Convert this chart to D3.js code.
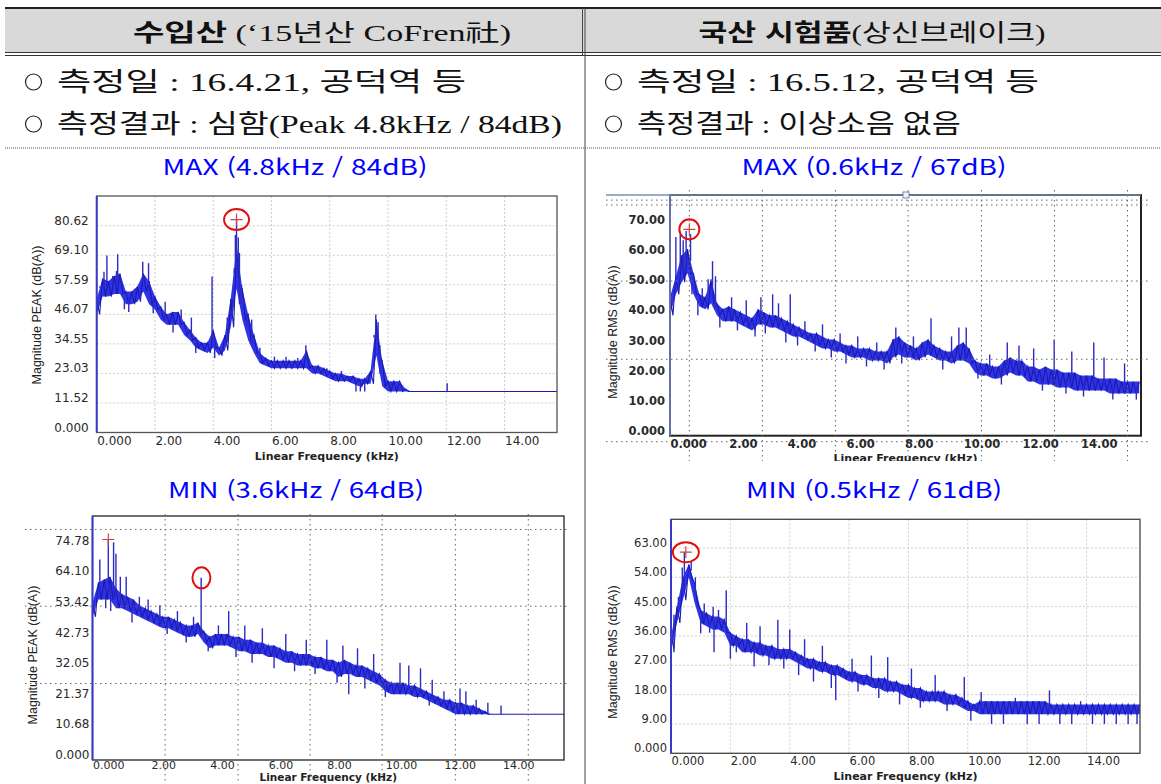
<!DOCTYPE html>
<html lang="ko">
<head>
<meta charset="utf-8">
<title>제동 소음 측정 비교</title>
<script src="https://cdn.jsdelivr.net/npm/d3@7"></script>
<style>
  html, body { margin: 0; padding: 0; background: #fff; }
  svg { display: block; }
</style>
</head>
<body>
<svg id="sheet" width="1161" height="784"></svg>
<script>
// ---------- texts ----------
const columnHeads = [["수입산", " (‘15년산 CoFren社)"], ["국산 시험품", "(상신브레이크)"]];
const measureLines = [
  ["측정일 : 16.4.21, 공덕역 등", "측정결과 : 심함(Peak 4.8kHz / 84dB)"],
  ["측정일 : 16.5.12, 공덕역 등", "측정결과 : 이상소음 없음"]
];
const chartTitles = ["MAX (4.8kHz / 84dB)", "MAX (0.6kHz / 67dB)", "MIN (3.6kHz / 64dB)", "MIN (0.5kHz / 61dB)"];
const yTitles = ["Magnitude PEAK (dB(A))", "Magnitude RMS (dB(A))", "Magnitude PEAK (dB(A))", "Magnitude RMS (dB(A))"];
const xTitle = "Linear Frequency (kHz)";

// ---------- data ----------
const binKHz = 0.2;                       // spectrum bins, 0.2 kHz apart, from 0 kHz
const freqTicks = [0, 2, 4, 6, 8, 10, 12, 14];

// 수입산 MAX (peak spectrum)
const impMaxTicks = [0, 11.52, 23.03, 34.55, 46.07, 57.59, 69.10, 80.62];
const impMaxHi = [52,60,59,61,62,55,55,57,62,59, 53,49,46,47,47,43,40,37,35,35,
  40,33,38,52,72,56,46,38,31,29, 28,28,28,28,28,28,32,26,26,25,
  24,23,23,22,22,21,21,24,44,28, 20,20,20,17,16,16,16,16,16,16,
  16,16,16,16,16,16,16,16,16,16, 16,16,16,16,16,16,16,16,16,16];
const impMaxLo = [46,53,53,54,54,50,50,51,55,50, 48,44,42,42,42,38,36,33,32,31,
  33,30,32,41,56,44,36,31,27,26, 25,25,25,25,25,25,25,23,23,22,
  21,20,20,20,19,18,19,19,30,18, 16,16,16,16,16,16,16,16,16,16,
  16,16,16,16,16,16,16,16,16,16, 16,16,16,16,16,16,16,16,16,16];
const impMaxSpikes = [[0.1,57],[0.25,62.7],[0.35,69],[0.55,61],[0.68,63],[0.72,69.5],[0.95,48],[1.1,47],
  [1.3,56],[1.58,66.6],[1.78,66],[1.94,46.5],[2.35,51],[2.62,39],[2.9,48],[3.25,44.8],[3.4,31],
  [3.96,60.8],[4.05,29],[4.48,44.8],[4.66,52],[4.72,62],[4.76,77],[4.8,83],[4.86,76],[4.9,70],
  [4.97,57.5],[5.05,52],[5.15,45],[5.32,44],[5.6,33],[6.1,29.6],[6.5,29.5],[6.9,29],[7.18,34],
  [7.9,25],[8.4,24],[8.9,16],[9.05,16],[9.2,16],[9.52,38],[9.58,46],[9.66,43],[9.72,34],
  [10.1,19],[10.4,19.5],[12.03,19.2]];
const impMaxMark = [4.8, 83];

// 국산 MAX (rms spectrum)
const domMaxTicks = [0, 10, 20, 30, 40, 50, 60, 70];
const domMaxHi = [46,53,60,62,54,47,46,52,44,42, 43,42,41,40,39,42,41,40,40,39,
  38,37,36,35,34,34,33,32,32,31, 30,30,29,29,29,28,28,28,32,33,
  31,30,29,31,32,30,29,28,28,30, 31,29,25,24,24,23,23,25,26,25,
  25,23,23,22,23,22,22,21,21,21, 20,20,20,19,19,19,19,18,18,18, 18];
const domMaxLo = [40,47,51,54,47,43,42,44,40,38, 38,38,37,36,35,37,37,36,36,35,
  34,33,33,32,31,30,29,29,28,28, 27,26,26,26,25,25,25,24,26,27,
  26,26,25,26,27,26,25,25,24,25, 25,24,21,20,20,19,19,20,21,20,
  20,18,18,17,17,17,16,16,16,15, 15,15,15,15,15,14,14,14,14,14, 14];
const domMaxSpikes = [[0.2,66],[0.35,67],[0.45,65],[0.55,68],[0.7,67],[0.75,47],[0.95,40],[1.1,49],
  [1.3,52],[1.45,58],[1.55,53],[1.7,36],[2.1,46],[2.3,35],[2.6,45],[2.9,33],[3.1,46],[3.25,34],
  [3.5,47],[3.7,44],[3.95,31],[4.1,47],[4.35,30],[4.6,38],[4.95,28],[5.2,37],[5.5,26],[5.8,34],
  [6.0,24],[6.4,33],[6.7,23],[7.05,31],[7.3,22],[7.7,36],[7.9,24],[8.3,33],[8.9,39],[9.3,22],
  [9.6,33],[9.85,36],[10.1,36],[10.5,19],[10.9,27],[11.3,17],[11.5,31],[11.9,30],[12.4,29],
  [12.7,15],[13.1,32],[13.5,14],[13.7,28],[14.1,13],[14.45,31],[14.8,26],[15.1,12],[15.5,24],[15.9,12]];
const domMaxMark = [0.66, 68.6];

// 수입산 MIN (peak spectrum)
const impMinTicks = [0, 10.68, 21.37, 32.05, 42.73, 53.42, 64.10, 74.78];
const impMinHi = [55,62,63,64,60,58,57,56,54,53, 52,51,50,50,49,48,47,47,48,45,
  43,44,44,44,43,43,42,42,41,41, 40,40,39,38,38,37,37,37,36,36,
  35,35,34,35,34,33,33,32,31,30, 28,27,27,27,26,26,25,24,23,22,
  21,21,20,20,19,19,18,17,16,16, 16,16,16,16,16,16,16,16,16,16, 16];
const impMinLo = [50,56,56,56,53,53,52,51,50,49, 48,47,46,46,45,44,43,43,44,41,
  39,40,40,40,39,38,38,37,37,37, 36,36,35,34,34,33,33,33,32,32,
  31,31,29,30,30,29,29,28,27,26, 24,23,23,23,23,22,22,21,20,19,
  18,17,16,16,16,16,16,16,16,16, 16,16,16,16,16,16,16,16,16,16, 16];
const impMinSpikes = [[0.25,70],[0.45,53],[0.54,77],[0.62,52],[0.72,76],[0.8,72],[0.95,64],[1.15,64],
  [1.35,48],[1.6,57],[1.9,56],[2.3,54],[2.55,44],[2.9,52],[3.2,41],[3.45,50],[3.71,63.6],[3.95,38],
  [4.3,47],[4.65,52],[4.9,36],[5.2,47],[5.45,34],[5.8,46],[6.2,32],[6.6,44],[6.9,31],[7.3,42],
  [7.6,30],[8.0,42],[8.35,27],[8.55,40],[8.75,23],[9.05,39],[9.3,25],[9.6,37],[10.0,22],[10.5,34],
  [10.8,33],[11.2,32],[11.5,19],[11.6,28],[12.0,24],[12.55,25],[12.75,24],[13.1,21],[13.5,20],[13.95,19]];
const impMinMark = [3.72, 63.6];
const impMinPlus = [0.54, 77];

// 국산 MIN (rms spectrum)
const domMinTicks = [0, 9, 18, 27, 36, 45, 54, 63];
const domMinHi = [36,45,54,58,52,44,43,42,42,41, 37,36,35,35,34,34,33,33,32,32,
  32,31,30,29,29,28,28,27,27,26, 25,25,24,24,23,23,23,22,22,21,
  21,20,20,19,19,19,19,18,18,17, 16,15,16,16,16,16,16,16,16,16,
  16,16,16,16,15,15,15,15,15,15, 15,15,15,15,15,15,15,15,15,15];
const domMinLo = [32,40,47,54,46,40,39,38,38,37, 33,33,31,31,31,30,30,29,29,29,
  29,28,27,26,26,25,25,24,24,23, 22,22,21,21,20,20,19,19,19,18,
  17,17,16,16,16,16,15,15,15,14, 13,13,12,12,12,12,12,12,12,12,
  12,12,12,12,12,12,12,12,12,12, 12,12,12,12,12,12,12,12,12,12];
const domMinSpikes = [[0.1,31],[0.25,48],[0.38,57],[0.45,61.7],[0.58,57],[0.68,59],[0.82,54],[1.0,36.8],
  [1.12,46],[1.3,37],[1.42,45],[1.45,31],[1.6,44],[1.86,50],[2.0,29],[2.2,31],[2.55,40],[2.8,26.6],
  [3.0,39],[3.3,27],[3.6,41],[3.8,26],[4.0,38],[4.3,24],[4.5,35],[4.8,22],[5.1,33],[5.4,20],
  [5.55,16.3],[6.1,29],[6.3,19],[6.75,30],[7.0,17],[7.3,29.5],[7.7,15],[8.1,26],[8.4,14],[8.9,24],
  [9.3,13],[9.88,23.4],[10.1,10],[10.45,18.8],[10.8,9],[11.2,9],[11.6,17],[12.0,9],[12.4,9],
  [12.75,19.3],[13.1,9],[13.5,9],[13.8,16],[14.2,9],[14.6,9],[15.0,9],[15.4,9],[15.7,9]];
const domMinMark = [0.5, 61.7];

// screen-capture grid overlays (data units of each chart)
const domMaxOverlayF = [0.66, 3.15, 5.64, 8.12, 10.62, 13.11, 15.6];
const domMaxOverlayV = [78.3, 76.7, 51.4, 25.4, -2];
const impMinOverlayF = [2.48, 4.97, 7.43, 9.89, 12.39, 14.88];
const impMinOverlayV = [80.5, 53.7, 26.7];

// ---------- page ----------
const svg = d3.select("#sheet");
const blueFill = "#0a10e2";
const blueLine = "#2a2ac4";
const serif = "'Liberation Serif', 'Noto Sans CJK KR', serif";
const gothic = "'Noto Sans CJK KR', sans-serif";
const chartFont = "Verdana, 'DejaVu Sans', sans-serif";
const fmt = d => d === 0 ? "0.000" : d.toFixed(2);

function hline(x1, x2, yy, color, w, dash) {
  svg.append("line").attr("x1", x1).attr("x2", x2).attr("y1", yy).attr("y2", yy)
    .attr("stroke", color).attr("stroke-width", w).attr("stroke-dasharray", dash || null);
}

// table
svg.append("rect").attr("x", 5).attr("y", 9).attr("width", 1156).attr("height", 43).attr("fill", "#d9d9d9");
hline(5, 1161, 8, "#222", 2);
hline(5, 1161, 52.5, "#333", 1);
hline(5, 1161, 55.5, "#333", 1);
hline(5, 1161, 148, "#555", 1, "1,1");
svg.append("line").attr("x1", 585).attr("x2", 585).attr("y1", 8).attr("y2", 784).attr("stroke", "#444");
svg.append("line").attr("x1", 582.5).attr("x2", 582.5).attr("y1", 8).attr("y2", 56).attr("stroke", "#444");

const headPos = [{ cx: 322, w: 378 }, { cx: 872, w: 347 }];
columnHeads.forEach((h, i) => {
  const t = svg.append("text").attr("x", headPos[i].cx).attr("y", 41).attr("text-anchor", "middle")
    .attr("font-size", 24).attr("fill", "#111")
    .attr("textLength", headPos[i].w).attr("lengthAdjust", "spacingAndGlyphs");
  t.append("tspan").attr("font-family", gothic).attr("font-weight", 700).text(h[0]);
  t.append("tspan").attr("font-family", serif).text(h[1]);
});

// bullet rows: the ring glyph sits before each line
const linePos = [{ x: 24, w: [442, 538] }, { x: 604, w: [435, 357] }];
measureLines.forEach((rows, i) => {
  rows.forEach((s, j) => {
    const yy = j === 0 ? 91 : 133;
    svg.append("circle").attr("cx", linePos[i].x + 9.5).attr("cy", yy - 9).attr("r", 8)
      .attr("fill", "none").attr("stroke", "#222").attr("stroke-width", 1.2);
    svg.append("text").attr("x", linePos[i].x + 33).attr("y", yy)
      .attr("font-family", serif).attr("font-size", 26).attr("fill", "#111")
      .attr("textLength", linePos[i].w[j] - 33).attr("lengthAdjust", "spacingAndGlyphs").text(s);
  });
});

const titlePos = [{ cx: 295, y: 175, w: 265 }, { cx: 874, y: 175, w: 265 }, { cx: 296, y: 498, w: 256 }, { cx: 874, y: 498, w: 256 }];
chartTitles.forEach((s, i) => {
  svg.append("text").attr("x", titlePos[i].cx).attr("y", titlePos[i].y).attr("text-anchor", "middle")
    .attr("font-family", gothic).attr("font-size", 22).attr("fill", "#0000ff")
    .attr("textLength", titlePos[i].w).attr("lengthAdjust", "spacingAndGlyphs").text(s);
});

// ---------- spectrum panels ----------
const panels = [
  { hi: impMaxHi, lo: impMaxLo, spikes: impMaxSpikes, ticks: impMaxTicks, mark: impMaxMark, ring: [12.5, 10.5],
    left: 96.7, right: 557, top: 196, bottom: 432.5, xMax: 15.8, yMax: 92.2, fineGrid: true,
    yPad: 8, xPad: 4, labelSize: 12, xLabelSize: 12, labelWeight: 400, frame: "#555",
    yTitle: yTitles[0], yTitleAt: [37, 315], xTitleY: 459.5, xTitleSize: 11 },
  { hi: domMaxHi, lo: domMaxLo, spikes: domMaxSpikes, ticks: domMaxTicks, mark: domMaxMark, ring: [10, 10],
    left: 670, right: 1141, top: 195, bottom: 435.7, xMax: 16.06, yMax: 80, fineGrid: false,
    overlayF: domMaxOverlayF, overlayV: domMaxOverlayV, overlayX: [606, 1150], overlayY: [190, 462],
    yPad: 5, xPad: 4, labelSize: 11.5, xLabelSize: 11.5, labelWeight: 700, frame: "#222", clipY: 461,
    yTitle: yTitles[1], yTitleAt: [613, 332], xTitleY: 461.5, xTitleSize: 11 },
  { hi: impMinHi, lo: impMinLo, spikes: impMinSpikes, ticks: impMinTicks, mark: impMinMark, plus: impMinPlus, ring: [9, 10.5],
    left: 92.5, right: 564, top: 516, bottom: 760, xMax: 16.1, yMax: 85.2, fineGrid: false,
    overlayF: impMinOverlayF, overlayV: impMinOverlayV, overlayX: [25, 568], overlayY: [514, 784],
    yPad: 3, xPad: 1, labelSize: 12, xLabelSize: 11, labelWeight: 400, frame: "#222",
    yTitle: yTitles[2], yTitleAt: [33, 655], xTitleY: 781.4, xTitleSize: 10.5 },
  { hi: domMinHi, lo: domMinLo, spikes: domMinSpikes, ticks: domMinTicks, mark: domMinMark, ring: [13, 10],
    left: 671, right: 1140, top: 519.3, bottom: 753.3, xMax: 15.8, yMax: 71.8, fineGrid: true,
    yPad: 4, xPad: 3.5, labelSize: 11.5, xLabelSize: 11.5, labelWeight: 400, frame: "#444",
    yTitle: yTitles[3], yTitleAt: [613, 652], xTitleY: 780, xTitleSize: 11 }
];

panels.forEach((p, k) => {
  const x = d3.scaleLinear().domain([0, p.xMax]).range([p.left, p.right]);
  const y = d3.scaleLinear().domain([0, p.yMax]).range([p.bottom, p.top]);
  const g = svg.append("g");
  if (p.clipY) {
    svg.append("clipPath").attr("id", "clip" + k).append("rect")
      .attr("x", 0).attr("y", 0).attr("width", 1161).attr("height", p.clipY);
    g.attr("clip-path", `url(#clip${k})`);
  }

  if (p.fineGrid) {
    g.append("g").selectAll("line").data(p.ticks.filter(d => d > 0)).join("line")
      .attr("x1", p.left).attr("x2", p.right).attr("y1", d => y(d)).attr("y2", d => y(d))
      .attr("stroke", "#cdcdcd").attr("stroke-dasharray", "2,2");
    g.append("g").selectAll("line").data(freqTicks.filter(d => d > 0)).join("line")
      .attr("x1", d => x(d)).attr("x2", d => x(d)).attr("y1", p.top).attr("y2", p.bottom)
      .attr("stroke", "#cdcdcd").attr("stroke-dasharray", "2,2");
  }

  const bins = p.hi.map((h, i) => ({ f: i * binKHz, hi: h, lo: p.lo[i] }));
  g.append("path").datum(bins)
    .attr("d", d3.area().x(d => x(d.f)).y0(d => y(d.lo)).y1(d => y(d.hi)))
    .attr("fill", blueFill).attr("fill-opacity", 0.85);
  // sawtooth trace between the upper and lower edge of every bin
  const saw = bins.flatMap(d => [[d.f, d.hi], [d.f + binKHz / 2, d.lo]]).filter(d => d[0] <= p.xMax);
  g.append("path").datum(saw)
    .attr("d", d3.line().x(d => x(d[0])).y(d => y(d[1])))
    .attr("fill", "none").attr("stroke", "#1a1ab0").attr("stroke-width", 1.1);
  g.append("g").selectAll("line").data(p.spikes).join("line")
    .attr("x1", d => x(d[0])).attr("x2", d => x(d[0]))
    .attr("y1", d => { const i = Math.round(d[0] / binKHz); return y((p.hi[i] + p.lo[i]) / 2); })
    .attr("y2", d => y(d[1]))
    .attr("stroke", blueLine).attr("stroke-width", 1.4);

  // frame
  g.append("rect").attr("x", p.left).attr("y", p.top).attr("width", p.right - p.left).attr("height", p.bottom - p.top)
    .attr("fill", "none").attr("stroke", p.frame).attr("stroke-width", k === 1 ? 2 : 1.3);
  g.append("line").attr("x1", p.left).attr("x2", p.left).attr("y1", p.top).attr("y2", p.bottom)
    .attr("stroke", k === 1 ? "#6670a8" : "#3a3ac8").attr("stroke-width", 2);

  if (p.overlayF) {
    g.append("g").selectAll("line").data(p.overlayF).join("line")
      .attr("x1", d => x(d)).attr("x2", d => x(d)).attr("y1", p.overlayY[0]).attr("y2", p.overlayY[1])
      .attr("stroke", "#666").attr("stroke-dasharray", "1.5,3.5");
    g.append("g").selectAll("line").data(p.overlayV).join("line")
      .attr("x1", p.overlayX[0]).attr("x2", p.overlayX[1]).attr("y1", d => y(d)).attr("y2", d => y(d))
      .attr("stroke", "#666").attr("stroke-dasharray", "1.5,3.5");
  }
  if (k === 1) {
    g.append("line").attr("x1", p.overlayX[0]).attr("x2", p.right).attr("y1", p.top).attr("y2", p.top)
      .attr("stroke", "#7d8fb3").attr("stroke-width", 1.5);
    g.append("rect").attr("x", (p.left + p.right) / 2 - 3 + 0.5).attr("y", p.top - 3).attr("width", 6).attr("height", 6)
      .attr("fill", "#eef3fb").attr("stroke", "#6a8ab8");
  }

  // axes
  const ya = g.append("g").attr("transform", `translate(${p.left},0)`)
    .call(d3.axisLeft(y).tickValues(p.ticks).tickFormat(fmt).tickSize(0).tickPadding(p.yPad));
  ya.select(".domain").remove();
  ya.attr("font-family", chartFont).attr("font-size", p.labelSize);
  ya.selectAll("text").attr("dy", "-0.12em").attr("fill", "#2a2a2a").attr("font-weight", p.labelWeight);

  const xa = g.append("g").attr("transform", `translate(0,${p.bottom})`)
    .call(d3.axisBottom(x).tickValues(freqTicks).tickFormat(fmt).tickSize(0).tickPadding(p.xPad));
  xa.select(".domain").remove();
  xa.attr("font-family", chartFont).attr("font-size", p.xLabelSize);
  xa.selectAll("text").attr("text-anchor", "start").attr("fill", "#2a2a2a").attr("font-weight", p.labelWeight);

  g.append("text").attr("x", (p.left + p.right) / 2).attr("y", p.xTitleY).attr("text-anchor", "middle")
    .attr("font-family", chartFont).attr("font-weight", 700).attr("font-size", p.xTitleSize).attr("fill", "#222")
    .text(xTitle);
  g.append("text").attr("transform", `translate(${p.yTitleAt[0]},${p.yTitleAt[1]}) rotate(-90)`)
    .attr("text-anchor", "middle").attr("dominant-baseline", "central")
    .attr("font-family", "'Liberation Sans', Arial, sans-serif").attr("font-size", 12.5).attr("fill", "#222")
    .text(p.yTitle);

  // markers
  const mx = x(p.mark[0]), my = y(p.mark[1]);
  g.append("ellipse").attr("cx", mx).attr("cy", my).attr("rx", p.ring[0]).attr("ry", p.ring[1])
    .attr("fill", "none").attr("stroke", "#e01010").attr("stroke-width", 2);
  const plusAt = k === 2 ? p.plus : p.mark;
  const px = x(plusAt[0]), py = y(plusAt[1]);
  g.append("path").attr("d", `M${px - 6},${py}H${px + 6}M${px},${py - 6}V${py + 6}`)
    .attr("stroke", "#c84848").attr("stroke-width", 1.2);
});
</script>
</body>
</html>
